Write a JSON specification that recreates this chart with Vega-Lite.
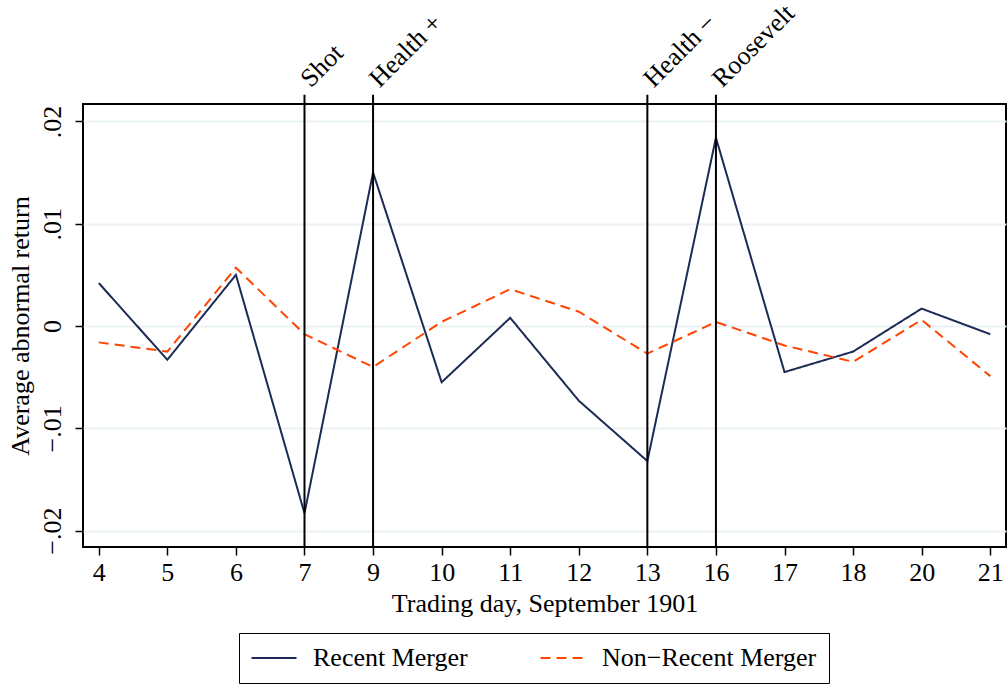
{
  "$schema": "https://vega.github.io/schema/vega-lite/v6.json",
  "width": 923,
  "height": 443,
  "autosize": {"type": "none"},
  "padding": {"left": 83, "top": 104, "right": 2, "bottom": 138},
  "background": "white",
  "config": {
    "font": "Liberation Serif",
    "view": {"stroke": "black", "strokeWidth": 2},
    "axis": {"labelFont": "Liberation Serif", "titleFont": "Liberation Serif", "labelColor": "black", "titleColor": "black", "titleFontWeight": "normal", "labelFontSize": 26, "titleFontSize": 26, "tickColor": "black", "tickWidth": 1.5, "tickSize": 8, "domain": false}
  },
  "datasets": {
    "series": [
      {"day": 4, "series": "Recent Merger", "ret": 0.0042},
      {"day": 5, "series": "Recent Merger", "ret": -0.0033},
      {"day": 6, "series": "Recent Merger", "ret": 0.0050},
      {"day": 7, "series": "Recent Merger", "ret": -0.0183},
      {"day": 9, "series": "Recent Merger", "ret": 0.0150},
      {"day": 10, "series": "Recent Merger", "ret": -0.0055},
      {"day": 11, "series": "Recent Merger", "ret": 0.0008},
      {"day": 12, "series": "Recent Merger", "ret": -0.0073},
      {"day": 13, "series": "Recent Merger", "ret": -0.0132},
      {"day": 16, "series": "Recent Merger", "ret": 0.0184},
      {"day": 17, "series": "Recent Merger", "ret": -0.0045},
      {"day": 18, "series": "Recent Merger", "ret": -0.0025},
      {"day": 20, "series": "Recent Merger", "ret": 0.0017},
      {"day": 21, "series": "Recent Merger", "ret": -0.0008},
      {"day": 4, "series": "Non\u2212Recent Merger", "ret": -0.0016},
      {"day": 5, "series": "Non\u2212Recent Merger", "ret": -0.0025},
      {"day": 6, "series": "Non\u2212Recent Merger", "ret": 0.0057},
      {"day": 7, "series": "Non\u2212Recent Merger", "ret": -0.0008},
      {"day": 9, "series": "Non\u2212Recent Merger", "ret": -0.0040},
      {"day": 10, "series": "Non\u2212Recent Merger", "ret": 0.0004},
      {"day": 11, "series": "Non\u2212Recent Merger", "ret": 0.0036},
      {"day": 12, "series": "Non\u2212Recent Merger", "ret": 0.0014},
      {"day": 13, "series": "Non\u2212Recent Merger", "ret": -0.0027},
      {"day": 16, "series": "Non\u2212Recent Merger", "ret": 0.0004},
      {"day": 17, "series": "Non\u2212Recent Merger", "ret": -0.0019},
      {"day": 18, "series": "Non\u2212Recent Merger", "ret": -0.0035},
      {"day": 20, "series": "Non\u2212Recent Merger", "ret": 0.0006},
      {"day": 21, "series": "Non\u2212Recent Merger", "ret": -0.0049}
    ],
    "events": [
      {"day": 7, "label": "Shot"},
      {"day": 9, "label": "Health +"},
      {"day": 13, "label": "Health \u2212"},
      {"day": 16, "label": "Roosevelt"}
    ]
  },
  "layer": [
    {
      "data": {"name": "series"},
      "mark": {"type": "line", "strokeWidth": 2},
      "encoding": {
        "x": {
          "field": "day", "type": "ordinal",
          "scale": {"type": "point", "padding": 0.23},
          "axis": {"title": "Trading day, September 1901", "labelAngle": 0, "labelPadding": 4, "titlePadding": 5, "grid": false}
        },
        "y": {
          "field": "ret", "type": "quantitative",
          "scale": {"domain": [-0.0216, 0.0217], "nice": false, "zero": false},
          "axis": {
            "title": "Average abnormal return",
            "values": [-0.02, -0.01, 0, 0.01, 0.02],
            "labelExpr": "replace(format(datum.value, '.2~f'), '0.', '.')",
            "labelAngle": -90, "labelAlign": "center", "labelBaseline": "bottom",
            "labelPadding": 10, "titlePadding": 6,
            "grid": true, "gridColor": "#eaf2f3", "gridWidth": 2
          }
        },
        "color": {
          "field": "series", "type": "nominal",
          "scale": {"domain": ["Recent Merger", "Non\u2212Recent Merger"], "range": ["#1c2b55", "#ff4500"]},
          "legend": {
            "title": null, "orient": "none", "legendX": 156, "legendY": 529,
            "direction": "horizontal", "symbolType": "M-2,0H2", "symbolSize": 506,
            "symbolOffset": 10,
            "symbolStrokeWidth": 2, "labelFont": "Liberation Serif", "labelFontSize": 26,
            "labelColor": "black", "labelOffset": 26, "labelLimit": 500, "columnPadding": 68,
            "strokeColor": "black", "padding": 12, "fillColor": "white"
          }
        },
        "strokeDash": {
          "field": "series", "type": "nominal",
          "scale": {"domain": ["Recent Merger", "Non\u2212Recent Merger"], "range": [[1, 0], [10, 6]]},
          "legend": null
        }
      }
    },
    {
      "data": {"name": "events"},
      "mark": {"type": "rule", "color": "black", "strokeWidth": 2},
      "encoding": {
        "x": {"field": "day", "type": "ordinal"},
        "y": {"datum": -0.0216},
        "y2": {"datum": 0.0226}
      }
    },
    {
      "data": {"name": "events"},
      "mark": {"type": "text", "angle": -45, "align": "left", "baseline": "alphabetic", "font": "Liberation Serif", "fontSize": 26, "color": "black", "dx": 9, "dy": 0},
      "encoding": {
        "x": {"field": "day", "type": "ordinal"},
        "y": {"datum": 0.0226},
        "text": {"field": "label"}
      }
    }
  ]
}
